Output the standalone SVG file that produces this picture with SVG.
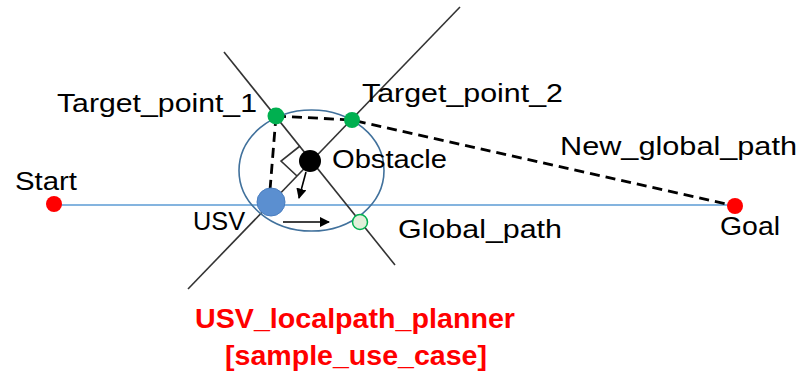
<svg xmlns="http://www.w3.org/2000/svg" width="810" height="378" viewBox="0 0 810 378">
<style>
.lbl{font-family:"Liberation Sans",Arial,sans-serif;font-size:26px;fill:#000}
.red{font-family:"Liberation Sans",Arial,sans-serif;font-size:27px;font-weight:bold;fill:#FF0000}
.thin{stroke:#333;stroke-width:1.6;fill:none}
.dash{stroke:#000;stroke-width:2.8;fill:none;stroke-dasharray:10,6}
.blue{stroke:#5B9BD5;stroke-width:1.6;fill:none}
.ep{fill:#FF0000}
.tp{fill:#00B050}
</style>
<defs>
<marker id="ah" viewBox="0 0 10 10" refX="9" refY="5" markerWidth="6.5" markerHeight="6.5" orient="auto" markerUnits="strokeWidth">
<path d="M0,0 L10,5 L0,10 z" fill="#000"/>
</marker>
</defs>
<rect width="810" height="378" fill="#fff"/>
<g id="connectors">
<path class="blue" d="M55,205 H735"/>
<path class="thin" d="M224,52 L395,265"/>
<path class="thin" d="M460,7 L188,289"/>
<path class="thin" d="M300,146 L281,161 L297,176"/>
<path class="dash" d="M276,116 L270,190"/>
<path class="dash" d="M276,116 L352,120 L735,206"/>
<path d="M306,172 L299,198" stroke="#000" stroke-width="1.6" fill="none" marker-end="url(#ah)"/>
<path d="M283,222 L329,222" stroke="#000" stroke-width="1.6" fill="none" marker-end="url(#ah)"/>
</g>
<g id="range">
<ellipse cx="311.5" cy="170.5" rx="72.5" ry="60.5" fill="none" stroke="#41719C" stroke-width="1.6"/>
</g>
<g id="start">
<circle class="ep" cx="54" cy="204" r="8"/>
<text class="lbl" x="15" y="190" textLength="62" lengthAdjust="spacingAndGlyphs">Start</text>
</g>
<g id="goal">
<circle class="ep" cx="735" cy="206" r="8"/>
<text class="lbl" x="720" y="235" textLength="60" lengthAdjust="spacingAndGlyphs">Goal</text>
</g>
<g id="usv">
<circle cx="271" cy="202" r="14" fill="#5B8FD0" stroke="#4A7EC0" stroke-width="1"/>
<text class="lbl" x="193" y="230" textLength="52" lengthAdjust="spacingAndGlyphs">USV</text>
</g>
<g id="obstacle">
<circle cx="310" cy="161" r="11" fill="#000"/>
<text class="lbl" x="332" y="168" textLength="115" lengthAdjust="spacingAndGlyphs">Obstacle</text>
</g>
<g id="target_point_1">
<circle class="tp" cx="276" cy="116" r="8.5"/>
<text class="lbl" x="57" y="112" textLength="200" lengthAdjust="spacingAndGlyphs">Target_point_1</text>
</g>
<g id="target_point_2">
<circle class="tp" cx="352" cy="120" r="8"/>
<text class="lbl" x="362" y="102" textLength="201" lengthAdjust="spacingAndGlyphs">Target_point_2</text>
</g>
<g id="global_point">
<circle cx="360" cy="222" r="7.5" fill="#E2EFDA" stroke="#00B050" stroke-width="1.5"/>
<text class="lbl" x="398" y="238" textLength="164" lengthAdjust="spacingAndGlyphs">Global_path</text>
</g>
<g id="new_global_path_label">
<text class="lbl" x="560" y="155" textLength="237" lengthAdjust="spacingAndGlyphs">New_global_path</text>
</g>
<g id="title">
<text class="red" x="195" y="328" textLength="320" lengthAdjust="spacingAndGlyphs">USV_localpath_planner</text>
<text class="red" x="225" y="365" textLength="262" lengthAdjust="spacingAndGlyphs">[sample_use_case]</text>
</g>
</svg>
